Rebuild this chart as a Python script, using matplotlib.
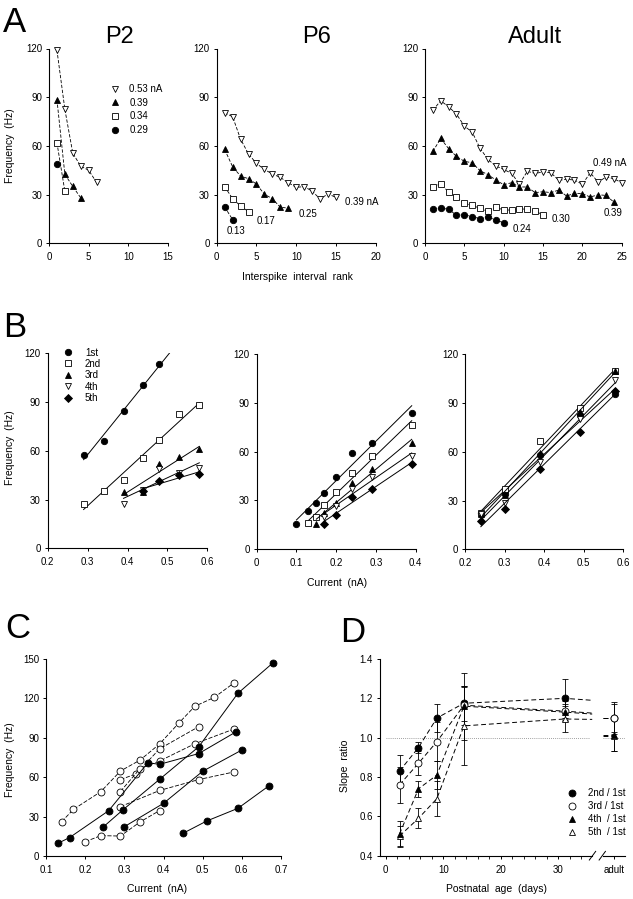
import numpy as np
import matplotlib
matplotlib.use('Agg')
import matplotlib.pyplot as plt
from matplotlib.lines import Line2D

plt.rcParams['font.family'] = ['Liberation Sans', 'DejaVu Sans']

# ---------------- data ----------------
# A: instantaneous frequency (Hz) vs interspike interval rank
p2_053 = [119, 82.5, 55.5, 47.5, 45, 37.5]
p2_039 = [88.5, 42.5, 35, 28]
p2_034 = [62, 32]
p2_029 = [49]

p6_039 = [80.4, 78, 64.2, 55, 49.2, 45.5, 42.7, 40.6, 37.3, 34.5, 34.9, 32.2,
          27.3, 30.4, 28.3]
p6_025 = [57.8, 47.2, 41.4, 39.8, 36.5, 30.2, 27.5, 22.2, 21.7]
p6_017 = [34.9, 27.5, 23, 19.5]
p6_013 = [22.4, 14.6]

ad_049 = [82, 87.8, 84.1, 79.6, 72.2, 68.5, 58.5, 51.7, 47.6, 45.5, 43.1, 36.5,
          44.3, 43.1, 43.9, 43.5, 38.8, 39.4, 39, 36.3, 43.5, 37.7, 40.8, 39.8,
          37.3]
ad_039 = [56.6, 64.6, 58.3, 53.5, 50.5, 49.6, 44.7, 42.3, 39, 36.1, 37.3, 34.7,
          34.7, 31.2, 31.8, 31.2, 32.8, 29.1, 30.8, 30.6, 28.5, 29.9, 29.5, 25.4]
ad_030 = [34.9, 36.5, 31.6, 28.3, 24.6, 23.4, 21.5, 19.7, 22.2, 20.5, 20.5,
          21.3, 20.9, 19.7, 17.6]
ad_024 = [21.3, 21.5, 21.1, 17.2, 17.6, 16.4, 15.2, 16.4, 14.2, 12.7]

# B: frequency of 1st..5th interval vs injected current
bl_1_x = [0.29, 0.34, 0.39, 0.44, 0.48]
bl_1_y = [57.5, 66, 84.5, 100.5, 113.5]
bl_2_x = [0.29, 0.34, 0.39, 0.44, 0.48, 0.53, 0.58]
bl_2_y = [27, 35.3, 42, 55.6, 66.7, 82.7, 88.4]
bl_3_x = [0.39, 0.44, 0.48, 0.53, 0.58]
bl_3_y = [34.9, 34.5, 51.9, 56, 61.3]
bl_4_x = [0.39, 0.44, 0.48, 0.53, 0.58]
bl_4_y = [27.3, 35.9, 48.6, 46.6, 49.4]
bl_5_x = [0.44, 0.48, 0.53, 0.58]
bl_5_y = [35, 41.4, 45.1, 45.5]

bm_1_x = [0.10, 0.13, 0.15, 0.17, 0.20, 0.24, 0.29, 0.39]
bm_1_y = [15.2, 23.4, 28.5, 34.7, 44.5, 58.9, 65, 83.7]
bm_2_x = [0.13, 0.15, 0.17, 0.20, 0.24, 0.29, 0.39]
bm_2_y = [15.8, 19.9, 27.1, 35.3, 47, 57.2, 76.1]
bm_3_x = [0.15, 0.17, 0.20, 0.24, 0.29, 0.39]
bm_3_y = [15.4, 22.4, 28.5, 40.4, 49, 65]
bm_4_x = [0.17, 0.20, 0.24, 0.29, 0.39]
bm_4_y = [19.5, 26.5, 36.7, 44.1, 57.2]
bm_5_x = [0.17, 0.20, 0.24, 0.29, 0.39]
bm_5_y = [15.4, 20.9, 32.2, 37.1, 52.1]

br_x = [0.24, 0.30, 0.39, 0.49, 0.58]
br_1_y = [22.2, 34.3, 58, 82.7, 95.6]
br_2_y = [22.6, 36.9, 66.7, 87, 110]
br_3_y = [21.7, 33.4, 59, 84.7, 110]
br_4_y = [22, 28.7, 54, 80, 104]
br_5_y = [17.6, 24.6, 49.6, 72.4, 97.6]

# C: first-interval f-I curves of individual cells
c_f1_x = [0.13, 0.16, 0.26, 0.36, 0.39, 0.49, 0.585]
c_f1_y = [9.6, 14, 34.5, 71, 69.8, 78, 94.5]
c_f2_x = [0.245, 0.297, 0.39, 0.49, 0.59, 0.68]
c_f2_y = [21.8, 35.3, 58.4, 83.2, 123.9, 147.2]
c_f3_x = [0.30, 0.40, 0.50, 0.60]
c_f3_y = [22.3, 40.1, 64.5, 80.7]
c_f4_x = [0.45, 0.51, 0.59, 0.67]
c_f4_y = [17.3, 26.6, 36.3, 53.6]
c_o1_x = [0.14, 0.17, 0.24, 0.29, 0.34, 0.39, 0.44, 0.48, 0.53, 0.58]
c_o1_y = [26.1, 35.5, 49, 64.7, 73, 85.3, 101.5, 114, 120.8, 131.8]
c_o2_x = [0.29, 0.33, 0.39, 0.49]
c_o2_y = [58.2, 62.5, 81.6, 98.5]
c_o3_x = [0.29, 0.34, 0.39, 0.48, 0.58]
c_o3_y = [49.1, 66.5, 72.3, 85.5, 96.7]
c_o4_x = [0.29, 0.39, 0.49, 0.58]
c_o4_y = [37.6, 49.9, 58.2, 64]
c_o5_x = [0.20, 0.24, 0.29, 0.34, 0.39]
c_o5_y = [10.9, 15.5, 15.2, 25.9, 34.6]

# D: slope ratio vs postnatal age
d_age = [2.4, 5.7, 8.9, 13.6, 31.1]
d_2nd = [0.83, 0.95, 1.10, 1.175, 1.20]
d_2nd_err = [0.08, 0.03, 0.07, 0.09, 0.10]
d_3rd = [0.76, 0.87, 0.98, 1.165, 1.135]
d_3rd_err = [0.09, 0.06, 0.10, 0.10, 0.05]
d_4th = [0.51, 0.74, 0.81, 1.16, 1.13]
d_4th_err = [0.065, 0.04, 0.07, 0.17, 0.04]
d_5th = [0.50, 0.59, 0.69, 1.06, 1.095]
d_5th_err = [0.05, 0.05, 0.09, 0.20, 0.065]
d_adult = [1.10, 1.10, 1.015, 1.01]
d_adult_err = [0.08, 0.07, 0.085, 0.08]
d_break_y = [1.19, 1.125, 1.12, 1.093]

# ---------------- layout ----------------
W, H = 633, 899
fig = plt.figure(figsize=(W / 100, H / 100), dpi=100)


def box(l, r, t, b):
    return [l / W, 1 - b / H, (r - l) / W, (b - t) / H]


def label(px, py, s, **kw):
    fig.text(px / W, 1 - py / H, s, **kw)


def style(ax):
    for s in ['top', 'right']:
        ax.spines[s].set_visible(False)
    for s in ['left', 'bottom']:
        ax.spines[s].set_linewidth(0.8)
    ax.tick_params(direction='out', length=2.5, width=0.7, labelsize=7)
    ax.tick_params(axis='x', pad=4)
    ax.tick_params(axis='y', pad=2.5)


open_kw = dict(mfc='white', mec='black', mew=0.6)
fill_kw = dict(mfc='black', mec='black', mew=0.6)


def mk(marker, filled, ms):
    kw = fill_kw if filled else open_kw
    return dict(marker=marker, ms=ms, **kw)


# ---------------- A ----------------
def curve(ax, y, marker, filled, ms=4.6):
    ranks = np.arange(1, len(y) + 1)
    ax.plot(ranks, y, color='black', lw=0.6, dashes=(4, 2), clip_on=False,
            **mk(marker, filled, ms))


a_boxes = [(49, 168), (216.7, 375.7), (425, 621.7)]
a_xmax = [15, 20, 25]
a_sets = [
    [(p2_053, 'v', False), (p2_039, '^', True), (p2_034, 's', False), (p2_029, 'o', True)],
    [(p6_039, 'v', False), (p6_025, '^', True), (p6_017, 's', False), (p6_013, 'o', True)],
    [(ad_049, 'v', False), (ad_039, '^', True), (ad_030, 's', False), (ad_024, 'o', True)],
]
a_axes = []
for (l, r), xm, sets in zip(a_boxes, a_xmax, a_sets):
    ax = fig.add_axes(box(l, r, 48.5, 243.3))
    style(ax)
    for y, m, f in sets:
        curve(ax, y, m, f)
    ax.set_xlim(0, xm)
    ax.set_ylim(0, 120)
    ax.set_xticks(np.arange(0, xm + 1, 5))
    ax.set_yticks([0, 30, 60, 90, 120])
    a_axes.append(ax)

hs = [Line2D([], [], ls='none', **mk(m, f, 4.6)) for _, m, f in a_sets[0]]
a_axes[0].legend(hs, ['0.53 nA', '0.39', '0.34', '0.29'], loc='upper left',
                 bbox_to_anchor=(110 / W, 1 - 84 / H), bbox_transform=fig.transFigure,
                 frameon=False, fontsize=7, borderpad=0, borderaxespad=0,
                 handlelength=1.0, handletextpad=1.0, labelspacing=0.38)

ax = a_axes[1]
for x, y, s in [(16.2, 25.2, '0.39 nA'), (10.35, 18, '0.25'),
                (5.0, 13.7, '0.17'), (1.3, 7.7, '0.13')]:
    ax.text(x, y, s, fontsize=7, va='center', ha='left')
ax = a_axes[2]
for x, y, s in [(21.4, 49.2, '0.49 nA'), (22.7, 18.9, '0.39'),
                (16.1, 15.2, '0.30'), (11.2, 8.6, '0.24')]:
    ax.text(x, y, s, fontsize=7, va='center', ha='left')

label(120, 43, 'P2', fontsize=17, ha='center', va='baseline')
label(317, 43, 'P6', fontsize=17, ha='center', va='baseline')
label(535, 43, 'Adult', fontsize=17, ha='center', va='baseline')
label(297, 277, 'Interspike  interval  rank', fontsize=7.5, ha='center', va='center')
label(10, 146, 'Frequency  (Hz)', fontsize=7.5, rotation=90, ha='center', va='center')

# ---------------- B ----------------
b_marks = [('o', True), ('s', False), ('^', True), ('v', False), ('D', True)]
b_ms = [4.6, 4.6, 4.6, 4.6, 3.8]


def fi_panel(ax, xs, ys, xhi):
    for (m, f), ms, x, y in zip(b_marks, b_ms, xs, ys):
        k, c = np.polyfit(x, y, 1)
        xl = np.array([min(x), xhi])
        ax.plot(xl, k * xl + c, color='black', lw=0.7)
        ax.plot(x, y, ls='none', clip_on=False, **mk(m, f, ms))


bl = fig.add_axes(box(47.7, 207.3, 353.3, 548.3))
fi_panel(bl, [bl_1_x, bl_2_x, bl_3_x, bl_4_x, bl_5_x],
         [bl_1_y, bl_2_y, bl_3_y, bl_4_y, bl_5_y], max(bl_2_x))
bl.set_xlim(0.2, 0.6)
bl.set_xticks([0.2, 0.3, 0.4, 0.5, 0.6])

bm = fig.add_axes(box(256.7, 415.7, 354, 549))
fi_panel(bm, [bm_1_x, bm_2_x, bm_3_x, bm_4_x, bm_5_x],
         [bm_1_y, bm_2_y, bm_3_y, bm_4_y, bm_5_y], max(bm_1_x))
bm.set_xlim(0, 0.4)
bm.set_xticks([0, 0.1, 0.2, 0.3, 0.4], ['0', '0.1', '0.2', '0.3', '0.4'])

br = fig.add_axes(box(465, 623.3, 354.3, 549.3))
fi_panel(br, [br_x] * 5, [br_1_y, br_2_y, br_3_y, br_4_y, br_5_y], max(br_x))
br.set_xlim(0.2, 0.6)
br.set_xticks([0.2, 0.3, 0.4, 0.5, 0.6])

for ax in (bl, bm, br):
    style(ax)
    ax.set_ylim(0, 120)
    ax.set_yticks([0, 30, 60, 90, 120])

hs = [Line2D([], [], ls='none', **mk(m, f, ms)) for (m, f), ms in zip(b_marks, b_ms)]
bl.legend(hs, ['1st', '2nd', '3rd', '4th', '5th'], loc='upper left',
          bbox_to_anchor=(63 / W, 1 - 347.5 / H), bbox_transform=fig.transFigure,
          frameon=False, fontsize=7, borderpad=0, borderaxespad=0,
          handlelength=1.0, handletextpad=1.25, labelspacing=0.14)

label(336.7, 582.7, 'Current  (nA)', fontsize=7.5, ha='center', va='center')
label(10, 448, 'Frequency  (Hz)', fontsize=7.5, rotation=90, ha='center', va='center')

# ---------------- C ----------------
cx = fig.add_axes(box(46, 281, 659, 856))
style(cx)
for x, y in [(c_o1_x, c_o1_y), (c_o2_x, c_o2_y), (c_o3_x, c_o3_y),
             (c_o4_x, c_o4_y), (c_o5_x, c_o5_y)]:
    cx.plot(x, y, color='black', lw=0.6, dashes=(5, 2), clip_on=False,
            **mk('o', False, 5))
for x, y in [(c_f1_x, c_f1_y), (c_f2_x, c_f2_y), (c_f3_x, c_f3_y), (c_f4_x, c_f4_y)]:
    cx.plot(x, y, color='black', lw=0.7, clip_on=False, **mk('o', True, 5))
cx.set_xlim(0.1, 0.7)
cx.set_ylim(0, 150)
cx.set_xticks([0.1, 0.2, 0.3, 0.4, 0.5, 0.6, 0.7])
cx.set_yticks([0, 30, 60, 90, 120, 150])
label(157, 889, 'Current  (nA)', fontsize=7.5, ha='center', va='center')
label(10, 760, 'Frequency  (Hz)', fontsize=7.5, rotation=90, ha='center', va='center')

# ---------------- D ----------------
adult_pos = 39.7
gap_lo, gap_hi = 35.9, 37.8
dx = fig.add_axes(box(380, 625, 659, 855.7))
style(dx)
dx.spines['bottom'].set_visible(False)
dx.set_xlim(-0.99, 41.6)
dx.set_ylim(0.4, 1.4)
xt = dx.get_xaxis_transform()
dx.plot([-0.99, gap_lo], [0, 0], color='black', lw=0.8, transform=xt, clip_on=False)
dx.plot([gap_hi, 41.6], [0, 0], color='black', lw=0.8, transform=xt, clip_on=False)
for x0 in (gap_lo - 0.5, gap_hi - 0.7):
    dx.plot([x0, x0 + 1.1], [-0.022, 0.022], color='black', lw=0.7,
            transform=xt, clip_on=False)

dx.plot([0, gap_lo - 0.5], [1.0, 1.0], color='gray', lw=0.6, ls=(0, (1, 1.5)))
dx.plot([gap_hi - 0.1, 41.6], [1.0, 1.0], color='gray', lw=0.6, ls=(0, (1, 1.5)))

d_series = [
    (d_2nd, d_2nd_err, 0, 'o', True),
    (d_3rd, d_3rd_err, 1, 'o', False),
    (d_5th, d_5th_err, 3, '^', False),
    (d_4th, d_4th_err, 2, '^', True),
]
eb = dict(fmt='none', ecolor='black', elinewidth=0.6, capsize=2.5, capthick=0.6)
for vals, err, i, m, f in d_series:
    dx.errorbar(d_age, vals, yerr=err, **eb)
    dx.errorbar([adult_pos], [d_adult[i]], yerr=[d_adult_err[i]], **eb)
for vals, err, i, m, f in d_series:
    dx.plot(d_age + [gap_lo], vals + [d_break_y[i]], color='black', lw=0.7,
            dashes=(5, 3))
    dx.plot([gap_hi, adult_pos], [d_adult[i], d_adult[i]], color='black', lw=0.7,
            dashes=(5, 3))
for vals, err, i, m, f in d_series:
    dx.plot(d_age + [adult_pos], vals + [d_adult[i]], ls='none', **mk(m, f, 5))

dx.set_xticks([0, 10, 20, 30, adult_pos], ['0', '10', '20', '30', 'adult'])
dx.set_xticks([t for t in range(2, 35, 2) if t % 10], minor=True)
dx.tick_params(axis='x', which='minor', direction='out', length=1.8, width=0.6)
dx.set_yticks([0.4, 0.6, 0.8, 1.0, 1.2, 1.4])

d_marks = [('o', True), ('o', False), ('^', True), ('^', False)]
hs = [Line2D([], [], ls='none', **mk(m, f, 5)) for m, f in d_marks]
dx.legend(hs, ['2nd / 1st', '3rd / 1st', '4th  / 1st', '5th  / 1st'], loc='upper left',
          bbox_to_anchor=(567 / W, 1 - 788.5 / H), bbox_transform=fig.transFigure,
          frameon=False, fontsize=7, borderpad=0, borderaxespad=0,
          handlelength=1.0, handletextpad=1.2, labelspacing=0.3)

label(497, 889, 'Postnatal  age  (days)', fontsize=7.5, ha='center', va='center')
label(345, 766, 'Slope  ratio', fontsize=7.5, rotation=90, ha='center', va='center')

# panel letters
for x, y, s in [(3, 32, 'A'), (3, 337, 'B'), (5, 638, 'C'), (340, 642, 'D')]:
    label(x, y, s, fontsize=25, va='baseline', ha='left')

fig.savefig('out.png', dpi=100)
